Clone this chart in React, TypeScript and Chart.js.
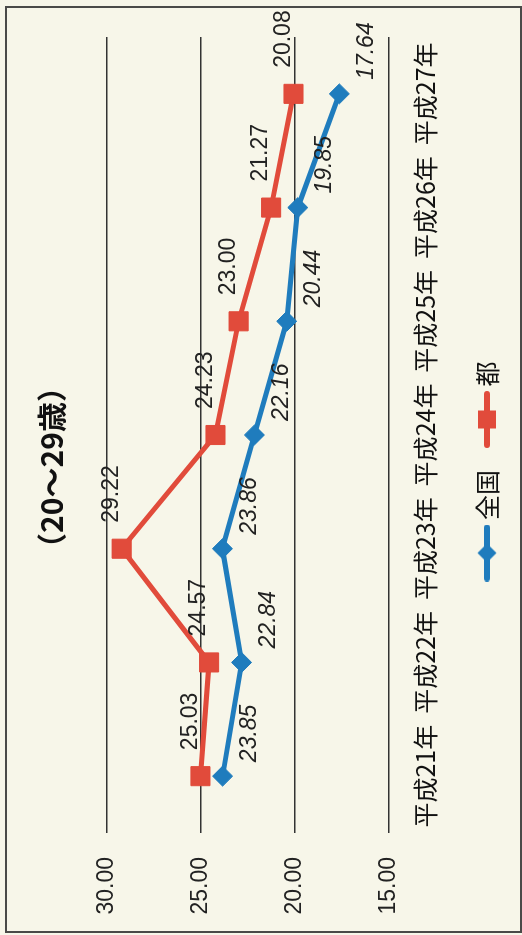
import React, { useEffect, useRef } from 'react';
import { Chart, registerables } from 'chart.js';

Chart.register(...registerables);

const categories = ['平成21年', '平成22年', '平成23年', '平成24年', '平成25年', '平成26年', '平成27年'];
const zenkokuValues = [23.85, 22.84, 23.86, 22.16, 20.44, 19.85, 17.64];
const toValues = [25.03, 24.57, 29.22, 24.23, 23.0, 21.27, 20.08];
const seriesNames = ['全国', '都'];
const titleText = '（20～29歳）';
const yMin = 15;
const yMax = 30;
const yStep = 5;

const RED = '#E14B3B';
const BLUE = '#1F7CBD';
const BG = '#F7F6E9';
const CJK = "'Noto Sans CJK JP', 'Noto Sans CJK SC', sans-serif";
const NUM = "'Liberation Sans', Arial, sans-serif";

const W = 935;
const H = 522;

function makeLegendIcon(color: string, style: 'rect' | 'diamond') {
  const c = document.createElement('canvas');
  c.width = 57;
  c.height = 22;
  const ctx = c.getContext('2d')!;
  ctx.strokeStyle = color;
  ctx.fillStyle = color;
  ctx.lineWidth = 6;
  ctx.lineCap = 'round';
  ctx.beginPath();
  ctx.moveTo(3, 11);
  ctx.lineTo(54, 11);
  ctx.stroke();
  if (style === 'rect') {
    ctx.fillRect(28.5 - 9, 11 - 9, 18, 18);
  } else {
    ctx.beginPath();
    ctx.moveTo(28.5 - 9.5, 11);
    ctx.lineTo(28.5, 11 - 9.5);
    ctx.lineTo(28.5 + 9.5, 11);
    ctx.lineTo(28.5, 11 + 9.5);
    ctx.closePath();
    ctx.fill();
  }
  return c;
}

const framePlugin = {
  id: 'frame',
  beforeDraw(chart: any) {
    const ctx = chart.ctx;
    ctx.save();
    ctx.fillStyle = BG;
    ctx.fillRect(0, 0, chart.width, chart.height);
    ctx.strokeStyle = '#4a4a48';
    ctx.lineWidth = 2;
    ctx.strokeRect(3, 6, 925, 515);
    ctx.restore();
  },
};

const valueLabelPlugin = {
  id: 'valueLabels',
  afterDatasetsDraw(chart: any) {
    const ctx = chart.ctx;
    chart.data.datasets.forEach((ds: any, i: number) => {
      const meta = chart.getDatasetMeta(i);
      const isBlue = i === 0;
      ctx.save();
      ctx.font = `${isBlue ? 'italic ' : ''}23px ${NUM}`;
      ctx.fillStyle = '#222';
      ctx.textAlign = 'left';
      ctx.textBaseline = 'middle';
      meta.data.forEach((pt: any, j: number) => {
        const v = ds.data[j] as number;
        const dx = isBlue ? 14 : 26;
        const dy = isBlue ? 27 : -10;
        ctx.fillText(v.toFixed(2), pt.x + dx, pt.y + dy);
      });
      ctx.restore();
    });
  },
};

export default function App() {
  const canvasRef = useRef<HTMLCanvasElement | null>(null);

  useEffect(() => {
    const canvas = canvasRef.current;
    if (!canvas) return;
    const icons = [makeLegendIcon(BLUE, 'diamond'), makeLegendIcon(RED, 'rect')];
    const chart = new Chart(canvas, {
      type: 'line',
      data: {
        labels: categories,
        datasets: [
          {
            label: seriesNames[0],
            data: zenkokuValues,
            borderColor: BLUE,
            backgroundColor: BLUE,
            borderWidth: 5,
            pointStyle: 'rectRot',
            pointRadius: 10,
            pointBorderWidth: 1,
            pointBackgroundColor: BLUE,
            pointBorderColor: BLUE,
            tension: 0,
          },
          {
            label: seriesNames[1],
            data: toValues,
            borderColor: RED,
            backgroundColor: RED,
            borderWidth: 5,
            pointStyle: 'rect',
            pointRadius: 13.5,
            pointBorderWidth: 1,
            pointBackgroundColor: RED,
            pointBorderColor: RED,
            tension: 0,
          },
        ],
      },
      options: {
        animation: false,
        responsive: false,
        maintainAspectRatio: false,
        layout: { padding: { left: 18, right: 18, top: 0, bottom: 12.5 } },
        scales: {
          x: {
            type: 'category',
            offset: true,
            grid: { display: false, drawTicks: false },
            border: { display: false },
            ticks: {
              font: { family: CJK, size: 25 },
              color: '#111',
              padding: 21,
              maxRotation: 0,
              autoSkip: false,
            },
            afterFit: (scale: any) => {
              scale.height = 55.5;
            },
          },
          y: {
            min: yMin,
            max: yMax,
            ticks: {
              stepSize: yStep,
              font: { family: NUM, size: 23 },
              color: '#222',
              padding: 24,
              callback: (v: any) => Number(v).toFixed(2),
            },
            grid: { color: '#333', lineWidth: 1.5, drawTicks: false },
            border: { display: false },
            afterFit: (scale: any) => {
              scale.width = 84;
            },
          },
          yRight: {
            position: 'right',
            min: yMin,
            max: yMax,
            display: true,
            ticks: { display: false },
            grid: { display: false, drawTicks: false },
            border: { display: false },
            afterFit: (scale: any) => {
              scale.width = 19;
            },
          },
        },
        plugins: {
          title: {
            display: true,
            text: titleText,
            font: { family: CJK, size: 30, weight: 'bold' },
            color: '#111',
            padding: { top: 34, bottom: 37 },
          },
          legend: {
            display: true,
            position: 'bottom',
            labels: {
              usePointStyle: true,
              pointStyleWidth: 41,
              padding: 30,
              color: '#111',
              font: { family: CJK, size: 25 },
              generateLabels: (ch: any) => {
                const base = Chart.defaults.plugins.legend.labels.generateLabels(ch);
                return base.map((item: any, idx: number) => ({ ...item, pointStyle: icons[idx] }));
              },
            },
          },
          tooltip: { enabled: false },
        },
      },
      plugins: [framePlugin, valueLabelPlugin],
    } as any);
    return () => chart.destroy();
  }, []);

  return (
    <div
      style={{
        position: 'fixed',
        left: 0,
        top: 0,
        width: 522,
        height: 935,
        overflow: 'hidden',
        background: BG,
      }}
    >
      <div
        style={{
          position: 'absolute',
          left: 0,
          top: 0,
          width: W,
          height: H,
          transformOrigin: '0 0',
          transform: `translateY(${W}px) rotate(-90deg)`,
        }}
      >
        <canvas ref={canvasRef} width={W} height={H} style={{ display: 'block', width: W, height: H }} />
      </div>
    </div>
  );
}
